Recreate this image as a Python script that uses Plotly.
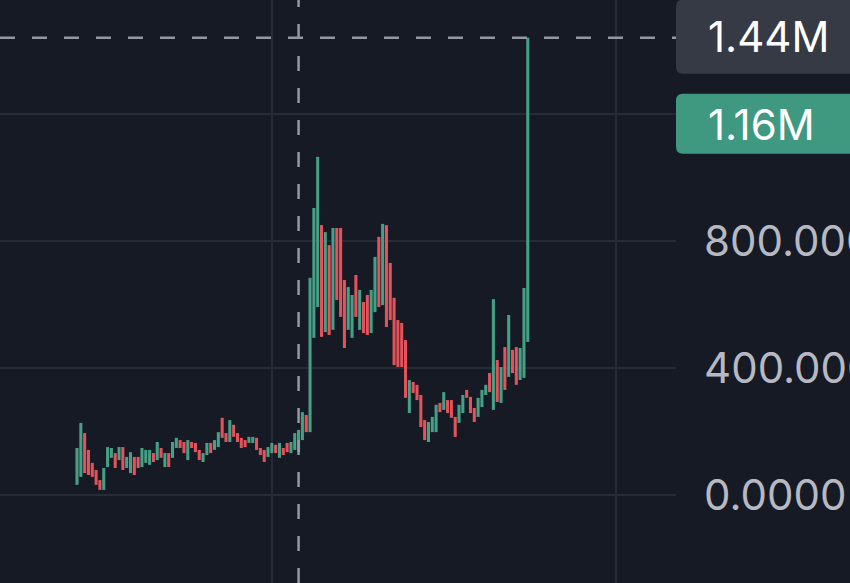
import plotly.graph_objects as go

# ---- data (values in thousands) ----
high_k = [148, 227, 195, 142, 101, 79, 47, 85, 151, 148,
          132, 151, 151, 120, 135, 120, 120, 148, 142, 142,
          132, 167, 148, 132, 132, 167, 180, 173, 167, 173,
          167, 164, 142, 132, 164, 164, 173, 198, 243, 195,
          236, 221, 195, 180, 173, 183, 183, 180, 148, 142,
          151, 164, 158, 164, 148, 164, 167, 195, 205, 261,
          252, 684, 904, 1065, 850, 828, 787, 841, 841, 841,
          677, 655, 630, 693, 646, 608, 630, 646, 750, 813,
          854, 850, 731, 621, 551, 542, 488, 362, 356, 347,
          315, 236, 230, 246, 284, 290, 324, 299, 299, 246,
          284, 315, 331, 309, 274, 306, 331, 347, 384, 617,
          425, 403, 466, 567, 457, 466, 463, 652, 1440]
low_k = [32, 57, 69, 63, 57, 32, 16, 16, 88, 117,
         85, 110, 79, 85, 69, 63, 85, 88, 101, 95,
         104, 110, 117, 88, 88, 117, 148, 148, 132, 110,
         148, 135, 110, 104, 126, 132, 142, 151, 180, 167,
         167, 183, 167, 148, 151, 164, 164, 142, 126, 104,
         120, 132, 132, 117, 126, 135, 132, 142, 135, 173,
         198, 198, 495, 592, 498, 513, 504, 520, 614, 561,
         463, 520, 495, 561, 520, 510, 504, 510, 576, 592,
         598, 529, 551, 409, 403, 403, 306, 258, 321, 299,
         214, 173, 167, 198, 198, 261, 268, 258, 243, 183,
         227, 258, 306, 258, 230, 246, 277, 315, 324, 268,
         293, 290, 331, 372, 384, 347, 362, 369, 482]
direction = list("GGRRRRRGGG" "RGRGGRRGGG" "RGRGRGGRRG" "RRRGGRGGRR" "GRRRRGGRRR"
                 "GGRGRRGGGG" "RGGGRGRGRR" "RGGRGRRGGR" "GRRRRRRGRR" "RRGGGRGRRR"
                 "GGRRRGGGRG" "RGRGRRGGG")
last_price = 1.16e6
last_label = "1.16M"
crosshair_price = 1.44e6
crosshair_label = "1.44M"
crosshair_index = 58
y_tickvals = [0, 400000, 800000, 1200000]
y_ticktext = ["0.0000", "400.000K", "800.000K", ""]   # 1.2M label hidden under last-price tag
x_gridvals = [51, 141]

# ---- styles ----
BG = "#161a25"
GRID = "#272b36"
UP = "#45a086"
DOWN = "#e4535c"
CROSS = "#9598a1"
FONT = "Inter"
FSIZE = 42

n = len(high_k)
idx = list(range(n))
high = [h * 1000 for h in high_k]
low = [l * 1000 for l in low_k]

fig = go.Figure(go.Bar(
    x=idx, base=low, y=[h - l for h, l in zip(high, low)], width=0.8,
    marker=dict(color=[UP if d == "G" else DOWN for d in direction], line=dict(width=0)),
    hoverinfo="skip"))

fig.update_layout(
    width=850, height=583, margin=dict(l=0, r=174, t=0, b=0),
    paper_bgcolor=BG, plot_bgcolor=BG, showlegend=False, template="none",
    font=dict(family=FONT),
    xaxis=dict(range=[-20.16, 156.8], tickvals=x_gridvals, showticklabels=False,
               showgrid=True, gridcolor=GRID, gridwidth=1.5, zeroline=False,
               showline=False, ticks="", fixedrange=True),
    yaxis=dict(side="right", range=[-277165, 1559055], tickvals=y_tickvals,
               ticktext=y_ticktext, showgrid=True, gridcolor=GRID, gridwidth=1.5,
               zeroline=False, showline=False, ticks="", automargin=False,
               tickfont=dict(family=FONT, size=FSIZE, color="#b6b9c2"),
               ticklabelstandoff=27, fixedrange=True),
)

# crosshair lines
fig.add_shape(type="line", xref="paper", x0=0, x1=1, yref="y",
              y0=crosshair_price, y1=crosshair_price,
              line=dict(color=CROSS, width=2.5, dash="15px,17px"))
fig.add_shape(type="line", xref="x", x0=crosshair_index, x1=crosshair_index,
              yref="paper", y0=0, y1=1,
              line=dict(color=CROSS, width=2.5, dash="15px,17px"))


def label_box(price, top, bottom, fill):
    r = 7
    w = 220
    path = (f"M {r},{top} L {w},{top} L {w},{bottom} L {r},{bottom} "
            f"Q 0,{bottom} 0,{bottom + r} L 0,{top - r} Q 0,{top} {r},{top} Z")
    fig.add_shape(type="path", path=path, xref="paper", xsizemode="pixel", xanchor=1,
                  yref="y", ysizemode="pixel", yanchor=price,
                  fillcolor=fill, line=dict(width=0), layer="above")


label_box(crosshair_price, 38, -36, "#363a45")
label_box(last_price, 33, -27, "#3f9981")

for price, text, ys in [(crosshair_price, crosshair_label, 1), (last_price, last_label, 2)]:
    fig.add_annotation(x=706 / 676, xref="paper", xanchor="left", y=price, yref="y",
                       yanchor="middle", yshift=ys, text=text, showarrow=False,
                       font=dict(family=FONT, size=FSIZE, color="#ffffff"))

fig.write_html("out.html", config={"displayModeBar": False},
               post_script="document.body.style.margin='0px';")
